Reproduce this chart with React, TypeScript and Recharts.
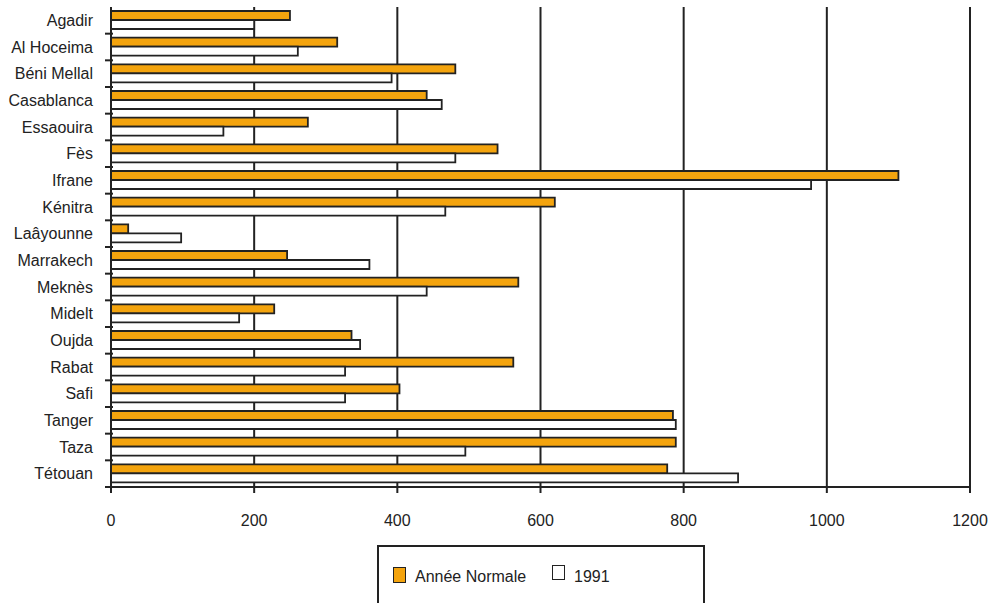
import React from "react";
import { BarChart, Bar, XAxis, YAxis, CartesianGrid } from "recharts";

const cities = [
  "Agadir", "Al Hoceima", "Béni Mellal", "Casablanca", "Essaouira", "Fès", "Ifrane", "Kénitra",
  "Laâyounne", "Marrakech", "Meknès", "Midelt", "Oujda", "Rabat", "Safi", "Tanger", "Taza", "Tétouan",
];
const anneeNormale = [250, 316, 481, 441, 275, 540, 1100, 620, 24, 246, 569, 228, 336, 562, 403, 785, 789, 777];
const an1991 = [200, 261, 392, 462, 157, 481, 978, 467, 98, 361, 441, 179, 348, 327, 327, 789, 495, 876];
const xTicks = [0, 200, 400, 600, 800, 1000, 1200];
const seriesNames = ["Année Normale", "1991"];

const data = cities.map((c, i) => ({ city: c, normale: anneeNormale[i], y1991: an1991[i] }));

const W = 996;
const H = 603;
const M = { top: 7, right: 26, left: 0, bottom: 0 };
const Y_W = 111;
const X_H = 116;
const plotH = H - M.top - M.bottom - X_H;
const halfBand = plotH / cities.length / 2;
const FONT = "'Liberation Sans', Arial, Helvetica, sans-serif";
const ORANGE = "#F4A40E";
const INK = "#222";

const YTick = (props: any) => {
  const { x, y, payload } = props;
  const xx = Number(x);
  const yy = Number(y);
  return (
    <g>
      <text x={xx - 18} y={yy} dy="0.35em" textAnchor="end" fontSize={16} fill={INK} fontFamily={FONT}>
        {payload.value}
      </text>
      <path d={`M${xx - 6},${yy + halfBand}H${xx + 2}`} stroke={INK} strokeWidth={2} fill="none" />
    </g>
  );
};

export default function App() {
  return (
    <div style={{ position: "absolute", left: 0, top: 0, width: W, height: H, background: "#fff" }}>
      <BarChart
        width={W}
        height={H}
        data={data}
        layout="vertical"
        margin={M}
        barSize={9}
        barGap={0}
      >
        <CartesianGrid horizontal={false} vertical={true} stroke={INK} strokeWidth={2} />
        <XAxis
          type="number"
          domain={[0, 1200]}
          ticks={xTicks}
          interval={0}
          height={X_H}
          axisLine={{ stroke: INK, strokeWidth: 2 }}
          tickLine={{ stroke: INK, strokeWidth: 2 }}
          tickSize={6}
          tickMargin={22}
          tick={{ fontSize: 16, fill: INK, fontFamily: FONT }}
        />
        <XAxis
          xAxisId="top"
          orientation="top"
          type="number"
          domain={[0, 1200]}
          ticks={xTicks}
          height={0}
          tick={false}
          tickLine={false}
          axisLine={{ stroke: INK, strokeWidth: 2 }}
        />
        <YAxis
          type="category"
          dataKey="city"
          width={Y_W}
          interval={0}
          tickSize={0}
          tickMargin={0}
          tickLine={false}
          axisLine={{ stroke: INK, strokeWidth: 2 }}
          tick={<YTick />}
        />
        <Bar dataKey="normale" name={seriesNames[0]} fill={ORANGE} stroke={INK} strokeWidth={1.8} isAnimationActive={false} />
        <Bar dataKey="y1991" name={seriesNames[1]} fill="#ffffff" stroke={INK} strokeWidth={1.8} isAnimationActive={false} />
      </BarChart>
      <div
        style={{
          position: "absolute",
          left: 377,
          top: 545,
          width: 324,
          height: 70,
          border: `2px solid ${INK}`,
          borderBottom: "none",
          fontFamily: FONT,
          fontSize: 16,
          color: INK,
        }}
      >
        <div style={{ position: "absolute", left: 14, top: 20, width: 11, height: 14, background: ORANGE, border: `1.5px solid ${INK}` }} />
        <div style={{ position: "absolute", left: 36, top: 21, lineHeight: "18px" }}>{seriesNames[0]}</div>
        <div style={{ position: "absolute", left: 173, top: 18, width: 11, height: 13, background: "#fff", border: `1.5px solid ${INK}` }} />
        <div style={{ position: "absolute", left: 195, top: 21, lineHeight: "18px" }}>{seriesNames[1]}</div>
      </div>
    </div>
  );
}
